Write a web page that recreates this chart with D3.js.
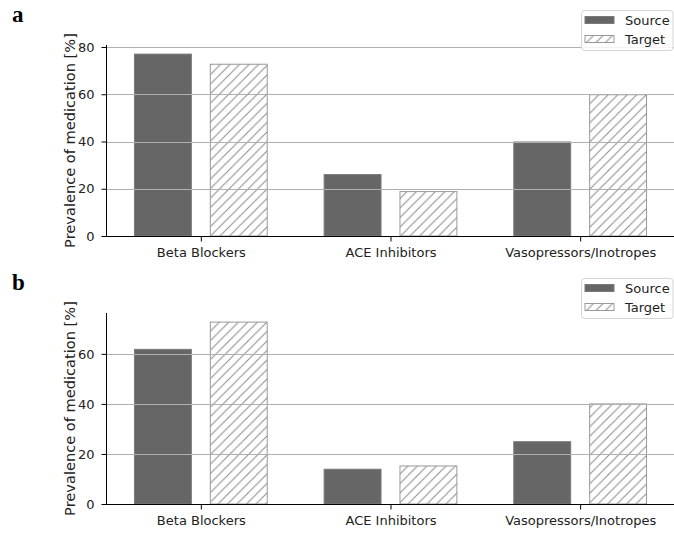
<!DOCTYPE html>
<html>
<head>
<meta charset="utf-8">
<script src="https://cdn.jsdelivr.net/npm/d3@7"></script>
<style>
  html, body { margin: 0; padding: 0; background: #fff; }
  svg { display: block; }
</style>
</head>
<body>
<svg id="chart" width="674" height="533"></svg>
<script>
// Medication classes and prevalence (%) for source vs target cohorts
const categories = ["Beta Blockers", "ACE Inhibitors", "Vasopressors/Inotropes"];
const seriesNames = ["Source", "Target"];
const panelA_source = [77.0, 26.0, 39.8];
const panelA_target = [72.7, 18.8, 59.8];
const panelB_source = [61.8, 13.9, 24.9];
const panelB_target = [72.7, 15.2, 40.0];
const panelA_ticks = [0, 20, 40, 60, 80];
const panelB_ticks = [0, 20, 40, 60];
const panelLetters = ["a", "b"];
const yLabel = "Prevalence of medication [%]";

const svg = d3.select("#chart");
const FONT = "DejaVu Sans, sans-serif";
const TICK_FS = 13;

// diagonal hatch for the Target bars
const defs = svg.append("defs");
const hp = 9.5;
const pat = defs.append("pattern")
  .attr("id", "hatch")
  .attr("patternUnits", "userSpaceOnUse")
  .attr("width", hp).attr("height", hp);
pat.append("rect").attr("width", hp).attr("height", hp).attr("fill", "#fff");
pat.append("path")
  .attr("d", `M${-hp/2},${hp/2} L${hp/2},${-hp/2} M0,${hp} L${hp},0 M${hp/2},${hp*1.5} L${hp*1.5},${hp/2}`)
  .attr("stroke", "#8a8a8a").attr("stroke-width", 1).attr("fill", "none");

const panels = [
  { letter: panelLetters[0], src: panelA_source, tgt: panelA_target, ticks: panelA_ticks,
    top: 45, bottom: 236, letterY: 22, legendY: 10 },
  { letter: panelLetters[1], src: panelB_source, tgt: panelB_target, ticks: panelB_ticks,
    top: 313, bottom: 504, letterY: 290, legendY: 278 }
];

const left = 106, right = 675;
const barW = 0.3, offset = 0.2;
const x = d3.scaleLinear().domain([-0.5, 2.5]).range([left, right]);

panels.forEach(p => {
  const ymax = Math.max(d3.max(p.src), d3.max(p.tgt)) * 1.05;
  const y = d3.scaleLinear().domain([0, ymax]).range([p.bottom, p.top]);
  const g = svg.append("g");

  // bars
  g.selectAll("rect.src").data(p.src).join("rect")
    .attr("x", (d, i) => x(i - offset - barW / 2))
    .attr("width", x(barW) - x(0))
    .attr("y", d => y(d))
    .attr("height", d => y(0) - y(d))
    .attr("fill", "#666666")
    .attr("stroke", "#7a7a7a").attr("stroke-width", 1);

  g.selectAll("rect.tgt").data(p.tgt).join("rect")
    .attr("x", (d, i) => x(i + offset - barW / 2))
    .attr("width", x(barW) - x(0))
    .attr("y", d => y(d))
    .attr("height", d => y(0) - y(d))
    .attr("fill", "url(#hatch)")
    .attr("stroke", "#999999").attr("stroke-width", 1);

  // horizontal grid lines, drawn over the bars
  g.selectAll("line.grid").data(p.ticks.filter(t => t > 0)).join("line")
    .attr("x1", left).attr("x2", 674)
    .attr("y1", d => Math.round(y(d)) + 0.5).attr("y2", d => Math.round(y(d)) + 0.5)
    .attr("stroke", "#b0b0b0").attr("stroke-width", 1);

  // y axis
  const yAxis = d3.axisLeft(y).tickValues(p.ticks).tickSize(5).tickPadding(7);
  const ya = g.append("g").attr("transform", `translate(${left + 0.5},0)`).call(yAxis);
  ya.select(".domain").attr("stroke", "#000").attr("d", `M0,${p.top}V${p.bottom}`);
  ya.selectAll("text").attr("font-family", FONT).attr("font-size", TICK_FS).attr("fill", "#222");

  // x axis
  const xAxis = d3.axisBottom(x).tickValues([0, 1, 2]).tickFormat(i => categories[i])
    .tickSize(5).tickPadding(6);
  const xa = g.append("g").attr("transform", `translate(0,${p.bottom + 0.5})`).call(xAxis);
  xa.select(".domain").attr("stroke", "#000").attr("d", `M${left},0H${right}`);
  xa.selectAll("text").attr("font-family", FONT).attr("font-size", TICK_FS).attr("fill", "#222");

  // y label
  svg.append("text")
    .attr("transform", `translate(75,${(p.top + p.bottom) / 2}) rotate(-90)`)
    .attr("text-anchor", "middle")
    .attr("font-family", FONT).attr("font-size", 14.6).attr("fill", "#222")
    .text(yLabel);

  // panel letter
  svg.append("text")
    .attr("x", 12).attr("y", p.letterY)
    .attr("font-family", "Liberation Serif, Times New Roman, serif")
    .attr("font-weight", "bold").attr("font-size", 23).attr("fill", "#000")
    .text(p.letter);

  // legend
  const lg = svg.append("g").attr("transform", `translate(581,${p.legendY})`);
  lg.append("rect").attr("x", 0.5).attr("y", 0.5).attr("width", 91.5).attr("height", 40)
    .attr("rx", 3).attr("fill", "#fff").attr("fill-opacity", 0.85)
    .attr("stroke", "#d5d5d5");
  seriesNames.forEach((name, i) => {
    const yy = 6.5 + i * 19;
    lg.append("rect").attr("x", 4).attr("y", yy).attr("width", 29).attr("height", 7)
      .attr("fill", i === 0 ? "#666666" : "url(#hatch)")
      .attr("stroke", i === 0 ? "#7a7a7a" : "#999999");
    lg.append("text").attr("x", 44).attr("y", yy + 8.5)
      .attr("font-family", FONT).attr("font-size", TICK_FS).attr("fill", "#222")
      .text(name);
  });
});
</script>
</body>
</html>
